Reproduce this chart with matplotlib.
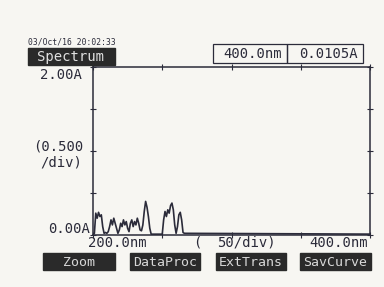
import matplotlib
matplotlib.use("Agg")
import matplotlib.pyplot as plt
from matplotlib.patches import Rectangle

# spectrum (nm, absorbance)
wavelength = [200, 201, 202, 203, 204, 205, 206, 207, 208, 209, 210, 211, 212, 213, 214,
              215, 216, 217, 218, 219, 220, 221, 222, 223, 224, 225, 226, 227, 228, 229,
              230, 231, 232, 233, 234, 235, 236, 237, 238, 239, 240, 241, 242, 250, 251,
              252, 253, 254, 255, 256, 257, 258, 259, 260, 261, 262, 263, 264, 265, 266,
              400]
absorbance = [0.00, 0.02, 0.26, 0.20, 0.27, 0.22, 0.24, 0.10, 0.02, 0.03, 0.02, 0.04, 0.10, 0.18, 0.12,
              0.20, 0.14, 0.08, 0.02, 0.06, 0.14, 0.10, 0.18, 0.12, 0.16, 0.08, 0.04, 0.14, 0.18, 0.10,
              0.16, 0.12, 0.20, 0.14, 0.06, 0.05, 0.12, 0.28, 0.40, 0.33, 0.22, 0.08, 0.01, 0.01, 0.18,
              0.28, 0.22, 0.30, 0.26, 0.35, 0.38, 0.30, 0.12, 0.02, 0.10, 0.24, 0.27, 0.18, 0.03, 0.02,
              0.0105]

x_ticks = [200, 250, 300, 350, 400]
y_ticks = [0.0, 0.5, 1.0, 1.5, 2.0]
buttons = ["Zoom", "DataProc", "ExtTrans", "SavCurve"]

ink = "#2b2b3a"
paper = "#f7f6f2"
W, H = 384, 287

fig = plt.figure(figsize=(W / 100, H / 100), dpi=100, facecolor=paper)


def fx(px):
    return px / W


def fy(py):
    return 1 - py / H


ax = fig.add_axes([fx(93), fy(235), fx(370) - fx(93), fy(67) - fy(235)])
ax.set_facecolor(paper)
ax.plot(wavelength, absorbance, color=ink, lw=1.2)
ax.set_xlim(200, 400)
ax.set_ylim(0, 2.0)
ax.set_xticks(x_ticks)
ax.set_yticks(y_ticks)
ax.tick_params(direction="inout", length=4, width=0.8, color=ink,
               top=True, right=True, labelbottom=False, labelleft=False)
for s in ax.spines.values():
    s.set_color(ink)
    s.set_linewidth(1.1)

mono = "DejaVu Sans Mono"

# header
fig.text(fx(28), fy(42), "03/Oct/16 20:02:33", family=mono, fontsize=5.8, color=ink, va="center")
fig.patches.append(Rectangle((fx(28), fy(65)), fx(115) - fx(28), fy(48) - fy(65),
                             transform=fig.transFigure, color="#2a2a2a"))
fig.text(fx(71), fy(57), "Spectrum", family=mono, fontsize=10, color="#e0e0e0",
         ha="center", va="center", fontweight="light")

# readout boxes
for x0, x1, txt in [(213, 287, "400.0nm"), (287, 363, "0.0105A")]:
    fig.patches.append(Rectangle((fx(x0), fy(63)), fx(x1) - fx(x0), fy(44) - fy(63),
                                 transform=fig.transFigure, fill=False, ec=ink, lw=0.9))
    fig.text(fx(x1 - 5), fy(53.5), txt, family=mono, fontsize=10, color=ink, ha="right", va="center")

# axis labels
fig.text(fx(82), fy(75), "2.00A", family=mono, fontsize=10, color=ink, ha="right", va="center")
fig.text(fx(33), fy(147), "(0.500", family=mono, fontsize=10, color=ink, va="center")
fig.text(fx(40), fy(163), "/div)", family=mono, fontsize=10, color=ink, va="center")
fig.text(fx(90), fy(229), "0.00A", family=mono, fontsize=10, color=ink, ha="right", va="center")
fig.text(fx(88), fy(243), "200.0nm", family=mono, fontsize=10, color=ink, va="center")
fig.text(fx(193), fy(243), "(", family=mono, fontsize=10, color=ink, va="center")
fig.text(fx(217), fy(243), "50/div)", family=mono, fontsize=10, color=ink, va="center")
fig.text(fx(368), fy(243), "400.0nm", family=mono, fontsize=10, color=ink, ha="right", va="center")

# soft keys
for (x0, x1), label in zip([(43, 115), (130, 200), (216, 286), (300, 371)], buttons):
    fig.patches.append(Rectangle((fx(x0), fy(270)), fx(x1) - fx(x0), fy(253) - fy(270),
                                 transform=fig.transFigure, color="#2a2a2a"))
    fig.text(fx((x0 + x1) / 2), fy(262), label, family=mono, fontsize=9.5, color="#d8d8d8",
             ha="center", va="center")

fig.savefig("out.png", dpi=100, facecolor=paper)
